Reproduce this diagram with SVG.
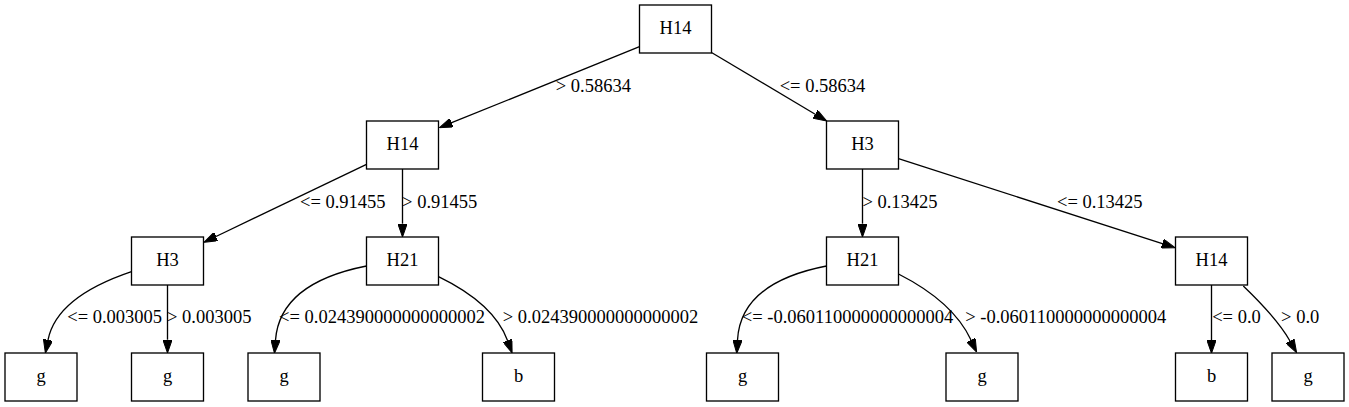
<svg xmlns="http://www.w3.org/2000/svg" width="1349" height="407" viewBox="0 0 1349 407">
<style>
.node rect{fill:#fff;stroke:#000;stroke-width:1.33}
.node text{font-family:"Liberation Serif","Times New Roman",serif;font-size:18.5px;text-anchor:middle;fill:#000}
.edge path{fill:none;stroke:#000;stroke-width:1.33}
.elabel{font-family:"Liberation Serif","Times New Roman",serif;font-size:18.5px;text-anchor:middle;fill:#000}
</style>
<defs>
<marker id="arr" markerUnits="userSpaceOnUse" viewBox="0 0 13.33 9.33" refX="0" refY="4.67" markerWidth="13.33" markerHeight="9.33" orient="auto">
<polygon points="0,0 13.33,4.67 0,9.33" fill="#000" stroke="#000" stroke-width="1"/>
</marker>
</defs>
<rect width="1349" height="407" fill="#fff"/>
<g id="edges">
<g class="edge"><path d="M639.5,46.7 L451.7,122.7" marker-end="url(#arr)"/><text class="elabel" x="593.3" y="92">&gt; 0.58634</text></g>
<g class="edge"><path d="M711.5,52.5 L815.2,114.2" marker-end="url(#arr)"/><text class="elabel" x="822.5" y="92">&lt;= 0.58634</text></g>
<g class="edge"><path d="M366.5,164.3 L216,236.5" marker-end="url(#arr)"/><text class="elabel" x="342.8" y="207.5">&lt;= 0.91455</text></g>
<g class="edge"><path d="M402.5,169 L402.5,223.7" marker-end="url(#arr)"/><text class="elabel" x="439.7" y="207.5">&gt; 0.91455</text></g>
<g class="edge"><path d="M862.5,169 L862.5,223.7" marker-end="url(#arr)"/><text class="elabel" x="900" y="207.5">&gt; 0.13425</text></g>
<g class="edge"><path d="M898.5,158.7 L1162.3,243.6" marker-end="url(#arr)"/><text class="elabel" x="1099.8" y="207.5">&lt;= 0.13425</text></g>
<g class="edge"><path d="M131.5,271.7 C95,284 55,305 48,340" marker-end="url(#arr)"/><text class="elabel" x="114.7" y="323.3">&lt;= 0.003005</text></g>
<g class="edge"><path d="M167.5,285 L167.5,339.7" marker-end="url(#arr)"/><text class="elabel" x="209.2" y="323.3">&gt; 0.003005</text></g>
<g class="edge"><path d="M366.5,266 C321,275 279,295 275.5,340" marker-end="url(#arr)"/><text class="elabel" x="382" y="323.3">&lt;= 0.024390000000000002</text></g>
<g class="edge"><path d="M438.5,276.7 C470,292 497,312 507.5,340.5" marker-end="url(#arr)"/><text class="elabel" x="600.5" y="323.3">&gt; 0.024390000000000002</text></g>
<g class="edge"><path d="M826.5,266 C780,275 740,295 737.5,340" marker-end="url(#arr)"/><text class="elabel" x="847.5" y="323.3">&lt;= -0.060110000000000004</text></g>
<g class="edge"><path d="M898.5,274 C930,290 958,312 971,340" marker-end="url(#arr)"/><text class="elabel" x="1065.7" y="323.3">&gt; -0.060110000000000004</text></g>
<g class="edge"><path d="M1211.5,285 L1211.5,340" marker-end="url(#arr)"/><text class="elabel" x="1236.5" y="323.3">&lt;= 0.0</text></g>
<g class="edge"><path d="M1243.3,286 C1260,302 1278,320 1290,341" marker-end="url(#arr)"/><text class="elabel" x="1300.2" y="323.3">&gt; 0.0</text></g>
</g>
<g id="n0" class="node"><rect x="639.5" y="5" width="72" height="48"/><text x="675.5" y="34.2">H14</text></g>
<g id="n1" class="node"><rect x="366.5" y="121" width="72" height="48"/><text x="402.5" y="150.2">H14</text></g>
<g id="n2" class="node"><rect x="826.5" y="121" width="72" height="48"/><text x="862.5" y="150.2">H3</text></g>
<g id="n3" class="node"><rect x="131.5" y="237" width="72" height="48"/><text x="167.5" y="266.2">H3</text></g>
<g id="n4" class="node"><rect x="366.5" y="237" width="72" height="48"/><text x="402.5" y="266.2">H21</text></g>
<g id="n5" class="node"><rect x="826.5" y="237" width="72" height="48"/><text x="862.5" y="266.2">H21</text></g>
<g id="n6" class="node"><rect x="1175.5" y="237" width="72" height="48"/><text x="1211.5" y="266.2">H14</text></g>
<g id="n7" class="node"><rect x="5" y="353" width="72" height="48"/><text x="41" y="382.2">g</text></g>
<g id="n8" class="node"><rect x="131.5" y="353" width="72" height="48"/><text x="167.5" y="382.2">g</text></g>
<g id="n9" class="node"><rect x="248" y="353" width="72" height="48"/><text x="284" y="382.2">g</text></g>
<g id="n10" class="node"><rect x="482.5" y="353" width="72" height="48"/><text x="518.5" y="382.2">b</text></g>
<g id="n11" class="node"><rect x="706.5" y="353" width="72" height="48"/><text x="742.5" y="382.2">g</text></g>
<g id="n12" class="node"><rect x="946" y="353" width="72" height="48"/><text x="982" y="382.2">g</text></g>
<g id="n13" class="node"><rect x="1175.5" y="353" width="72" height="48"/><text x="1211.5" y="382.2">b</text></g>
<g id="n14" class="node"><rect x="1272" y="353" width="72" height="48"/><text x="1308" y="382.2">g</text></g>
</svg>
